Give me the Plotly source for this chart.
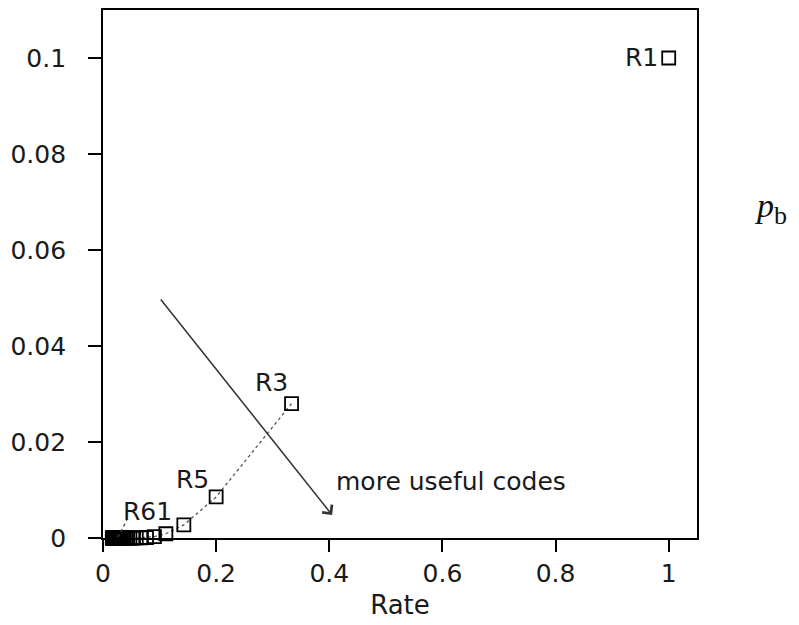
import plotly.graph_objects as go

# Repetition codes R1, R3, ..., R61 (binary symmetric channel, f = 0.1)
code_names = ["R1", "R3", "R5", "R7", "R9", "R11", "R13", "R15", "R17", "R19",
              "R21", "R23", "R25", "R27", "R29", "R31", "R33", "R35", "R37", "R39",
              "R41", "R43", "R45", "R47", "R49", "R51", "R53", "R55", "R57", "R59", "R61"]
rate = [1.0, 0.3333, 0.2, 0.1429, 0.1111, 0.0909, 0.0769, 0.0667, 0.0588, 0.0526,
        0.0476, 0.0435, 0.04, 0.037, 0.0345, 0.0323, 0.0303, 0.0286, 0.027, 0.0256,
        0.0244, 0.0233, 0.0222, 0.0213, 0.0204, 0.0196, 0.0189, 0.0182, 0.0175, 0.0169, 0.0164]
pb = [0.1, 0.028, 0.00856, 0.00273, 0.00089, 0.000296, 0.0000991, 0.0000335, 0.0000114, 0.0000039,
      0.0000013, 0.00000046, 0.00000016, 0.0, 0.0, 0.0, 0.0, 0.0, 0.0, 0.0,
      0.0, 0.0, 0.0, 0.0, 0.0, 0.0, 0.0, 0.0, 0.0, 0.0, 0.0]

x_ticks = [0, 0.2, 0.4, 0.6, 0.8, 1]
x_tick_text = ["0", "0.2", "0.4", "0.6", "0.8", "1"]
y_ticks = [0, 0.02, 0.04, 0.06, 0.08, 0.1]
y_tick_text = ["0", "0.02", "0.04", "0.06", "0.08", "0.1"]

FONT = "DejaVu Sans"
TXT = "#1a1a1a"

fig = go.Figure()

# dotted connecting line R3 ... R61
fig.add_trace(go.Scatter(x=rate[1:], y=pb[1:], mode="lines",
                         line=dict(color="#555555", width=1.3, dash="dot"),
                         cliponaxis=False, hoverinfo="skip", showlegend=False))
# square markers
fig.add_trace(go.Scatter(x=rate, y=pb, mode="markers",
                         marker=dict(symbol="square-open", size=13, color="black",
                                     line=dict(width=1.8, color="black")),
                         cliponaxis=False, text=code_names, showlegend=False))

# code labels
fig.add_annotation(x=0.984, y=0.1002, text="R1", showarrow=False, xanchor="right",
                   font=dict(family=FONT, size=25, color=TXT))
fig.add_annotation(x=0.297, y=0.0324, text="R3", showarrow=False,
                   font=dict(family=FONT, size=25, color=TXT))
fig.add_annotation(x=0.1575, y=0.0121, text="R5", showarrow=False,
                   font=dict(family=FONT, size=25, color=TXT))
fig.add_annotation(x=0.078, y=0.0056, text="R61", showarrow=False,
                   font=dict(family=FONT, size=25, color=TXT))
# leader line for R61
fig.add_shape(type="line", x0=0.0265, y0=0.0002, x1=0.042, y1=0.0037,
              line=dict(color="#444444", width=1.3, dash="dot"))

# arrow "more useful codes"
fig.add_annotation(x=0.405, y=0.0048, ax=0.1, ay=0.05, xref="x", yref="y",
                   axref="x", ayref="y", text="", showarrow=True,
                   arrowhead=4, arrowsize=1.6, arrowwidth=1.5, arrowcolor="#333333")
fig.add_annotation(x=0.408, y=0.0118, text="more useful codes", showarrow=False,
                   xanchor="left", font=dict(family=FONT, size=25, color=TXT))

# y-axis label p_b on the right
fig.add_annotation(xref="paper", yref="paper", x=1.094, y=0.625, xanchor="left",
                   yanchor="middle", showarrow=False,
                   text="<i>p</i><sub><span style='font-size:26px'>b</span></sub>",
                   font=dict(family="Liberation Serif", size=34, color="#111111"))

fig.update_layout(
    width=791, height=617,
    margin=dict(l=95, r=102, t=2, b=87),
    paper_bgcolor="white", plot_bgcolor="white",
    showlegend=False,
)
fig.update_xaxes(range=[0, 1.05], tickvals=x_ticks, ticktext=x_tick_text,
                 showgrid=False, zeroline=False, showline=True, mirror=True,
                 linecolor="black", linewidth=1.8, ticks="outside", ticklen=12,
                 tickwidth=1.8, tickcolor="black", automargin=False,
                 tickfont=dict(family=FONT, size=25, color=TXT),
                 title=dict(text="Rate", font=dict(family=FONT, size=26, color=TXT), standoff=9))
fig.update_yaxes(range=[0, 0.11], tickvals=y_ticks, ticktext=y_tick_text,
                 showgrid=False, zeroline=False, showline=True, mirror=True,
                 linecolor="black", linewidth=1.8, ticks="outside", ticklen=13,
                 tickwidth=1.8, tickcolor="black", ticklabelstandoff=17, automargin=False,
                 tickfont=dict(family=FONT, size=25, color=TXT))

fig.write_html("out.html")
